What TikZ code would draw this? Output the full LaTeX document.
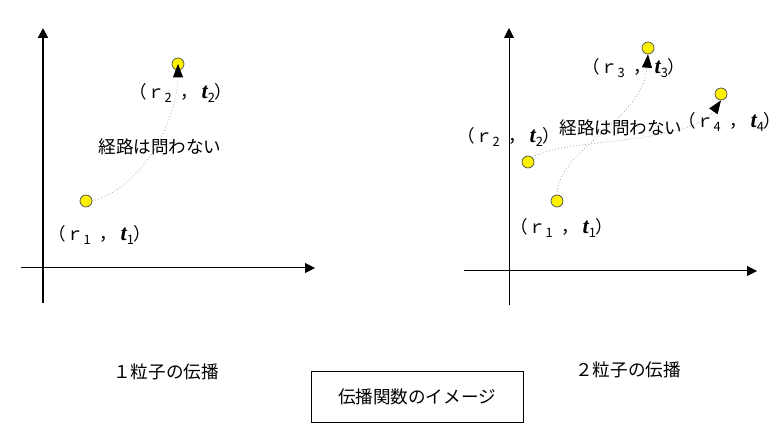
\documentclass[tikz,border=0pt]{standalone}
\usepackage{fontspec}
\setmainfont{Noto Sans CJK JP}
\newfontfamily\tfont{Liberation Serif}
\usetikzlibrary{arrows.meta}
\newcommand{\subn}[1]{\lower0.45ex\hbox{\fontsize{11}{12}\selectfont #1}}
\newcommand{\rt}[1]{（ｒ\subn{#1}\hspace{0.5em}，\hspace{0.2em}{\tfont\fontsize{19}{18}\selectfont\bfseries\itshape t}\subn{#1}）}

\begin{document}
\begin{tikzpicture}[x=0.03cm, y=-0.03cm,
    font=\fontsize{15}{18}\selectfont,
    lbl/.style={inner sep=0.5pt},
    axis/.style={-{Triangle[length=0.3cm, width=0.3cm]}, line width=0.85pt},
    event/.style={circle, draw=black!70, fill=yellow, inner sep=0pt, minimum size=0.36cm, line width=0.6pt},
    route/.style={dotted, black!45, line width=0.6pt, -{Triangle[length=0.4cm, width=0.3cm, color=black]}}]
  \useasboundingbox (0,0) rectangle (784,433);

  % one particle
  \coordinate (ly0) at (43,303);
  \coordinate (ly1) at (43,28);
  \coordinate (lx0) at (21,268);
  \coordinate (lx1) at (315,268);
  \draw[axis, line width=1.7pt] (ly0) -- (ly1);
  \draw[axis] (lx0) -- (lx1);
  \node[event] (a1) at (86,201) {};
  \node[event] (a2) at (178,64) {};
  \node[lbl] (a1lbl) at (100,235) {\rt{1}};
  \node[lbl] (a2lbl) at (181,93) {\rt{2}};
  \node[lbl] (aroute) at (160,147) {経路は問わない};
  \draw[route] (a1.east) .. controls (150,185) and (178,110) .. (a2.center);

  % two particles
  \coordinate (ry0) at (509,305);
  \coordinate (ry1) at (509,28);
  \coordinate (rx0) at (464,271);
  \coordinate (rx1) at (757,271);
  \draw[axis] (ry0) -- (ry1);
  \draw[axis] (rx0) -- (rx1);
  \node[event] (b1) at (557,201) {};
  \node[event] (b2) at (528,162) {};
  \node[event] (b3) at (648,48) {};
  \node[event] (b4) at (721,94) {};
  \node[lbl] (b1lbl) at (562,228) {\rt{1}};
  \node[lbl] (b2lbl) at (509,137) {\rt{2}};
  \node[lbl] (b3lbl) at (634,68) {\rt{3}};
  \node[lbl] (b4lbl) at (730,122) {\rt{4}};
  \node[lbl] (broute) at (621,128) {経路は問わない};
  \draw[route] (b1.north) .. controls (557,150) and (643,120) .. (b3.south);
  \draw[route] (b2.north east) .. controls (560,138) and (690,145) .. (b4.south);

  % captions
  \node (one) at (166,372) {１粒子の伝播};
  \node (two) at (628,370) {２粒子の伝播};
  \node[draw, line width=0.85pt, minimum width=6.36cm, minimum height=1.53cm] (title) at (417,397) {伝播関数のイメージ};
\end{tikzpicture}
\end{document}
